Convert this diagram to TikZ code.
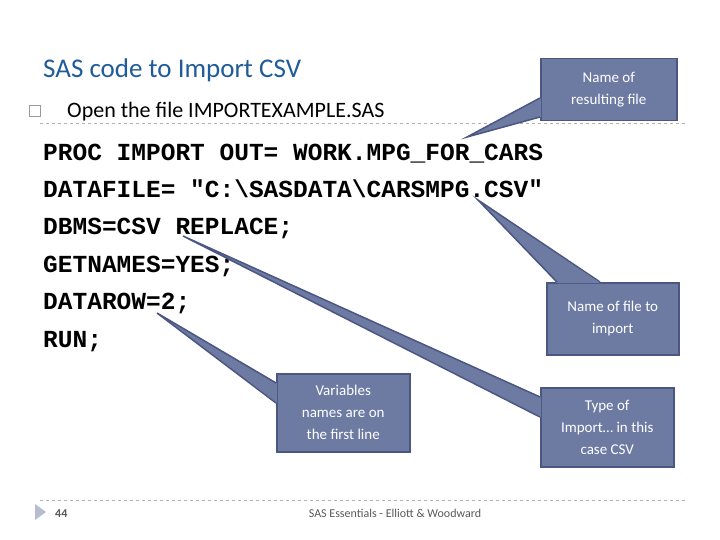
\documentclass[tikz,border=0pt]{standalone}
\usepackage{fontspec}
\setmainfont{Carlito}
\newfontfamily\codefont{Liberation Mono}
\definecolor{callfill}{HTML}{6D7BA3}
\definecolor{callline}{HTML}{4B5682}
\definecolor{titleblue}{HTML}{1F5C99}
\tikzset{
 callbox/.style={fill=callfill,draw=callline,line width=1.5pt,text=white,align=center,font=\fontsize{15}{22}\selectfont,anchor=north west,inner sep=0pt},
 code/.style={anchor=base west,inner sep=0pt,font=\codefont\bfseries\fontsize{24.5}{26}\selectfont},
 sep/.style={draw=gray!60,dashed,line width=0.6pt}
}
\begin{document}
\begin{tikzpicture}[x=1pt,y=-1pt]
\useasboundingbox (0,0) rectangle (720,540);
\fill[white] (0,0) rectangle (720,540);
\draw[sep] (40,123) -- (686,123);
\draw[sep] (40,500) -- (686,500);
\node[anchor=base west,inner sep=0pt,text=titleblue,font=\fontsize{27}{30}\selectfont] (title) at (43,78) {SAS code to Import CSV};
\node[draw=gray!80,line width=0.8pt,minimum size=11pt,inner sep=0pt] (bul) at (35,111) {};
\node[anchor=base west,inner sep=0pt,font=\fontsize{22}{26}\selectfont] (open) at (67,118) {Open the file IMPORTEXAMPLE.SAS};
\node[code] (l1) at (43,161) {PROC IMPORT OUT= WORK.MPG\_FOR\_CARS};
\node[code] (l2) at (43,198) {DATAFILE= "C:\textbackslash SASDATA\textbackslash CARSMPG.CSV"};
\node[code] (l3) at (43,235) {DBMS=CSV REPLACE;};
\node[code] (l4) at (43,272) {GETNAMES=YES;};
\node[code] (l5) at (43,309) {DATAROW=2;};
\node[code] (l6) at (43,347) {RUN;};
% callouts
\node[callbox,minimum width=136pt,minimum height=62pt] (c1) at (540,58) {Name of\\resulting file};
\coordinate (t1) at (467,137);
\fill[callfill] (541,98) -- (t1) -- (541,117) -- cycle;
\draw[callline,line width=1.5pt,line join=miter] (540,98) -- (t1) -- (540,117);
\node[callbox,minimum width=132pt,minimum height=72pt] (c2) at (546,282) {Name of file to\\import};
\coordinate (t2) at (478,200);
\fill[callfill] (557,283) -- (t2) -- (600,283) -- cycle;
\draw[callline,line width=1.5pt] (557,282) -- (t2) -- (600,282);
\node[callbox,minimum width=133pt,minimum height=79pt] (c3) at (540,387) {Type of\\Import\ldots\ in this\\case CSV};
\coordinate (t3) at (183,236);
\fill[callfill] (541,397) -- (t3) -- (541,417) -- cycle;
\draw[callline,line width=1.5pt] (540,397) -- (t3) -- (540,417);
\node[callbox,minimum width=133pt,minimum height=78pt] (c4) at (276,373) {Variables\\names are on\\the first line};
\coordinate (t4) at (157,313);
\fill[callfill] (277,383) -- (t4) -- (277,403) -- cycle;
\draw[callline,line width=1.5pt] (276,383) -- (t4) -- (276,403);
% footer
\fill[callfill!50] (35,504) -- (46,512) -- (35,520) -- cycle;
\node[anchor=base west,inner sep=0pt,font=\bfseries\fontsize{12}{14}\selectfont,text=gray!70!black] (pg) at (55,517) {44};
\node[anchor=base,inner sep=0pt,font=\fontsize{12}{14}\selectfont,text=gray!70!black] (ft) at (395,517) {SAS Essentials - Elliott \& Woodward};
\end{tikzpicture}
\end{document}
